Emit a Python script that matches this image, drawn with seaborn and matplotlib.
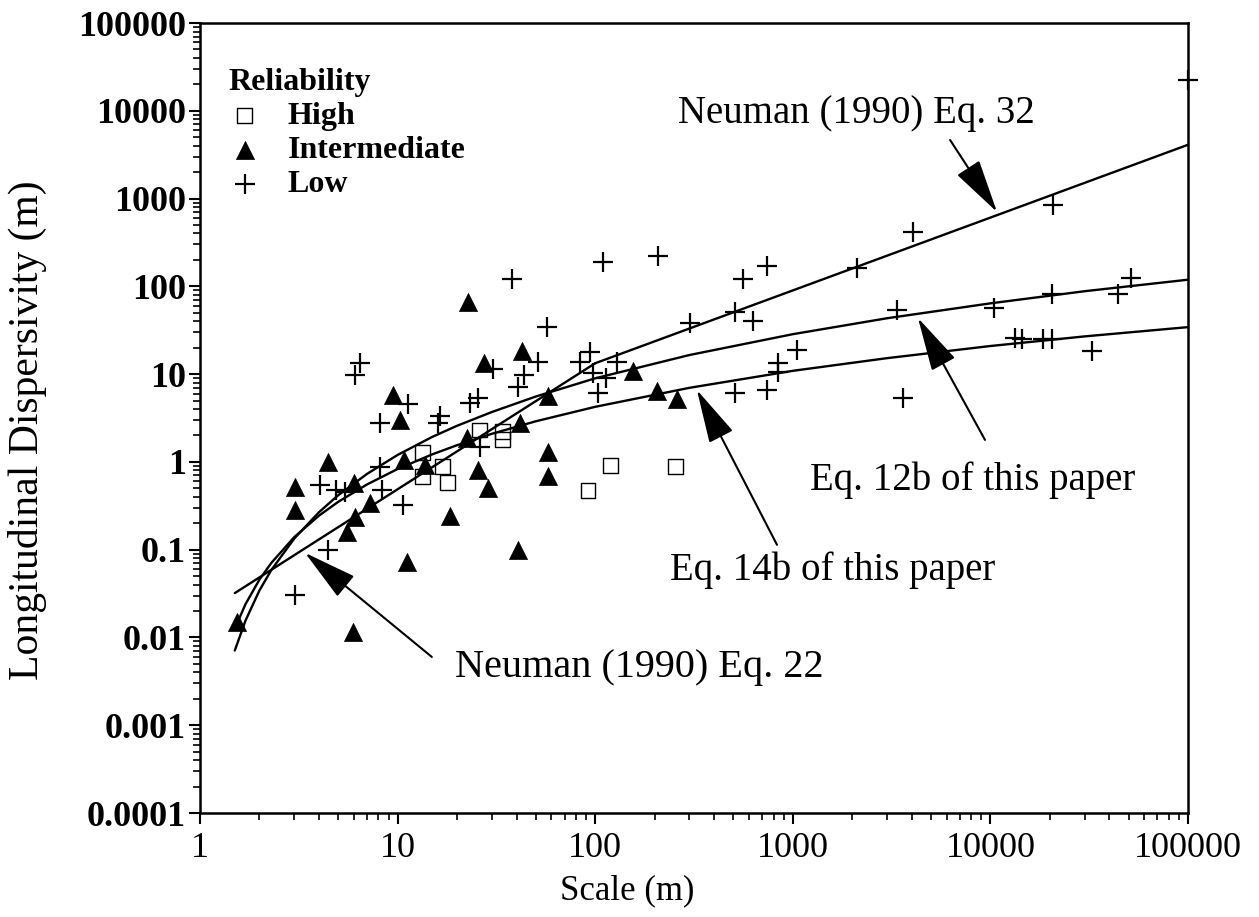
import matplotlib
matplotlib.use("Agg")
import matplotlib.pyplot as plt
from matplotlib.ticker import LogLocator, NullFormatter
import seaborn as sns

# ---- values ----
# High reliability (open squares)
high_scale = [13.4, 13.4, 16.8, 17.8, 26.1, 33.8, 33.8, 119, 256, 91.9]
high_disp = [1.27, 0.675, 0.877, 0.577, 2.31, 2.20, 1.78, 0.90, 0.877, 0.468]

# Intermediate reliability (filled triangles)
int_scale = [1.54, 3.03, 3.03, 4.44, 5.95, 6.02, 7.25, 6.09, 5.55, 9.48,
             10.3, 10.8, 11.2, 13.8, 18.4, 22.4, 22.7, 25.5, 27.4, 28.7,
             40.7, 41.6, 42.6, 57.7, 57.7, 57.7, 155, 205, 259]
int_disp = [0.0151, 0.519, 0.284, 1.0, 0.0116, 0.577, 0.341, 0.236, 0.160, 5.80,
            3.01, 1.05, 0.0726, 0.92, 0.243, 1.88, 66.4, 0.811, 13.4, 0.506,
            0.0995, 2.78, 18.4, 5.65, 1.30, 0.693, 10.9, 6.44, 5.22]

# Low reliability (plus signs)
low_scale = [3.03, 4.44, 4.05, 4.88, 5.42, 6.09, 6.45, 8.15, 8.15, 8.34,
             10.6, 11.3, 16.0, 16.4, 23.3, 25.5, 26.1, 30.4, 37.9, 40.7,
             43.6, 51.3, 57.0, 83.8, 94.1, 97.5, 103, 113, 129, 110,
             208, 302, 510, 629, 560, 740, 2110, 4060, 3370, 1050,
             842, 842, 510, 740, 3610, 20700, 10400, 20500, 44200, 51500,
             13300, 14500, 18500, 20500, 32700, 100000]
low_disp = [0.0306, 0.0995, 0.547, 0.480, 0.455, 9.8, 13.4, 2.78, 0.877, 0.480,
            0.324, 4.58, 2.78, 3.34, 4.70, 5.36, 1.48, 11.5, 121, 7.14,
            9.8, 13.8, 34.5, 13.8, 17.9, 10.3, 6.11, 9.06, 13.8, 190,
            222, 38.3, 51.1, 40.4, 121, 171, 162, 417, 53.8, 18.9,
            13.4, 10.6, 6.11, 6.61, 5.36, 845, 56.8, 81.9, 81.9, 125,
            25.8, 25.2, 25.2, 25.2, 18.4, 22400]

# fitted curves
curve_scale = [1.5, 1.7, 2, 2.3, 3, 4, 5, 7, 10, 15, 20, 30, 50, 100,
               300, 1000, 3000, 10000, 30000, 100000]
eq12b_disp = [0.0071, 0.0156, 0.0344, 0.059, 0.134, 0.267, 0.416, 0.729, 1.2, 1.93,
              2.58, 3.7, 5.55, 8.96, 16.5, 28.5, 43.3, 64, 88, 119]
eq14b_disp = [0.0126, 0.024, 0.0457, 0.071, 0.139, 0.244, 0.35, 0.553, 0.83, 1.22,
              1.55, 2.09, 2.90, 4.24, 6.98, 10.9, 15.2, 20.9, 26.9, 34.3]
eq22_scale = [1.5, 100]
eq22_disp = [0.032, 13.3]
eq32_scale = [100, 100000]
eq32_disp = [13.3, 4100]

x_ticks = [1, 10, 100, 1000, 10000, 100000]
x_labels = ["1", "10", "100", "1000", "10000", "100000"]
y_ticks = [0.0001, 0.001, 0.01, 0.1, 1, 10, 100, 1000, 10000, 100000]
y_labels = ["0.0001", "0.001", "0.01", "0.1", "1", "10", "100", "1000", "10000", "100000"]

sns.set_style("ticks")
plt.rcParams["font.family"] = ["Liberation Serif", "DejaVu Serif"]
plt.rcParams.update({"text.color": "black", "axes.labelcolor": "black",
                     "xtick.color": "black", "ytick.color": "black",
                     "axes.edgecolor": "black"})

fig = plt.figure(figsize=(12.59, 9.17), dpi=100)
ax = fig.add_axes([200 / 1259, 104 / 917, 988 / 1259, 790 / 917])
ax.set_xscale("log")
ax.set_yscale("log")

# curves
for xs, ys in [(curve_scale, eq12b_disp), (curve_scale, eq14b_disp),
               (eq22_scale, eq22_disp), (eq32_scale, eq32_disp)]:
    sns.lineplot(x=xs, y=ys, ax=ax, color="black", lw=1.7, sort=False,
                 estimator=None, legend=False)

# points
sns.scatterplot(x=high_scale, y=high_disp, ax=ax, marker="s", s=115, color="none",
                edgecolor="black", linewidth=1.0, label="High", zorder=3, clip_on=False)
sns.scatterplot(x=int_scale, y=int_disp, ax=ax, marker="^", s=170, color="black",
                edgecolor="black", linewidth=0.5, label="Intermediate", zorder=3,
                clip_on=False)
sns.scatterplot(x=low_scale, y=low_disp, ax=ax, marker="+", s=210, color="black",
                linewidth=1.6, label="Low", zorder=3, clip_on=False)

ax.set_xlim(1, 100000)
ax.set_ylim(0.0001, 100000)
ax.set_xticks(x_ticks, x_labels)
ax.set_yticks(y_ticks, y_labels, fontweight="bold")
ax.xaxis.set_minor_locator(LogLocator(base=10, subs=(2, 3, 4, 5, 6, 7, 8, 9), numticks=30))
ax.yaxis.set_minor_locator(LogLocator(base=10, subs=(2, 3, 4, 5, 6, 7, 8, 9), numticks=30))
ax.xaxis.set_minor_formatter(NullFormatter())
ax.yaxis.set_minor_formatter(NullFormatter())
ax.tick_params(axis="both", which="major", direction="out", length=8, width=1.5,
               labelsize=26, colors="black")
ax.tick_params(axis="both", which="minor", direction="out", length=5, width=1.2,
               colors="black")
ax.tick_params(axis="y", which="major", pad=2)
ax.tick_params(axis="x", which="major", pad=6)
for sp in ax.spines.values():
    sp.set_linewidth(1.8)
    sp.set_color("black")
    sp.set_visible(True)

ax.set_xlabel("Scale (m)", fontsize=25, color="black")
ax.xaxis.set_label_coords(0.432, -0.078)
ax.set_ylabel("Longitudinal Dispersivity (m)", fontsize=30, color="black")
ax.yaxis.set_label_coords(-0.155, 0.485)

leg = ax.legend(title="Reliability", loc="upper left", bbox_to_anchor=(0.029, 0.943),
                frameon=False, prop={"size": 23, "weight": "bold"},
                title_fontproperties={"size": 23, "weight": "bold"},
                alignment="left", handlelength=1.0, handletextpad=0.85,
                labelspacing=0.15, borderaxespad=0, borderpad=0)
for t in leg.get_texts():
    t.set_color("black")
leg.get_title().set_color("black")

# annotations
arrow = dict(arrowstyle="-|>,head_length=1.7,head_width=0.42", mutation_scale=20,
             color="black", lw=1.5, shrinkA=0, shrinkB=0)
ax.annotate("", xy=(10800, 703), xytext=(6250, 4650), arrowprops=arrow)
ax.annotate("", xy=(4300, 43.6), xytext=(9390, 1.78), arrowprops=arrow)
ax.annotate("", xy=(327, 6.61), xytext=(832, 0.1135), arrowprops=arrow)
ax.annotate("", xy=(3.40, 0.092), xytext=(14.9, 0.0060), arrowprops=arrow)

ax.text(262, 7260, "Neuman (1990) Eq. 32", fontsize=28, va="baseline", ha="left")
ax.text(1222, 0.48, "Eq. 12b of this paper", fontsize=28, va="baseline", ha="left")
ax.text(239, 0.0453, "Eq. 14b of this paper", fontsize=28, va="baseline", ha="left")
ax.text(19.5, 0.00356, "Neuman (1990) Eq. 22", fontsize=29, va="baseline", ha="left")

fig.savefig("out.png", dpi=100, facecolor="white")
